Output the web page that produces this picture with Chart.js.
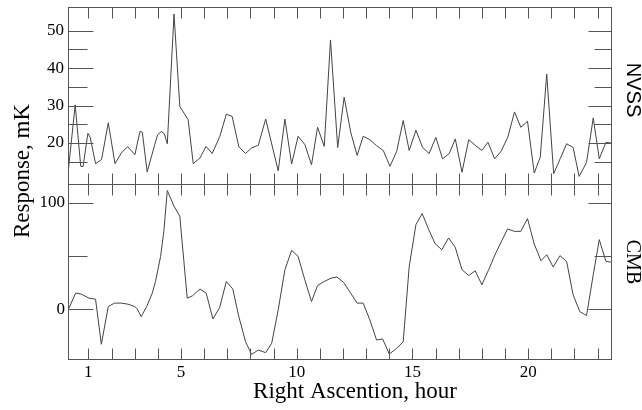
<!DOCTYPE html>
<html>
<head>
<meta charset="utf-8">
<script src="https://cdn.jsdelivr.net/npm/chart.js@4"></script>
<style>
  html, body { margin: 0; padding: 0; background: #fff; }
</style>
</head>
<body>
<canvas id="radio-chart" width="642" height="410"></canvas>
<script>
// Values

const nvssHours = [0.13, 0.43, 0.67, 0.77, 0.98, 1.08, 1.31, 1.57, 1.86, 2.15, 2.44, 2.70, 3.01, 3.23, 3.33, 3.54,
    3.87, 3.99, 4.16, 4.28, 4.41, 4.70, 4.95, 5.31, 5.53, 5.82, 6.08, 6.35, 6.68, 6.96, 7.21, 7.50, 7.79,
    8.05, 8.34, 8.66, 9.20, 9.49, 9.78, 10.06, 10.35, 10.64, 10.90, 11.19, 11.46, 11.77, 12.05, 12.34,
    12.61, 12.87, 13.16, 13.45, 13.74, 14.03, 14.32, 14.60, 14.86, 15.15, 15.44, 15.72, 16.01, 16.30,
    16.59, 16.85, 17.14, 17.43, 17.71, 18.00, 18.26, 18.55, 18.83, 19.12, 19.41, 19.68, 19.97, 20.26,
    20.52, 20.80, 21.10, 21.38, 21.66, 21.94, 22.20, 22.52, 22.81, 23.07, 23.36, 23.57];
const nvssValues = [12.4, 30.2, 13.8, 13.7, 22.6, 21.5, 14.5, 15.6, 25.4, 14.5, 17.5, 19.0, 16.9, 23.1, 22.9, 12.3,
    19.6, 22.2, 23.1, 22.5, 19.8, 54.4, 29.8, 26.2, 14.5, 16.0, 19.1, 17.2, 21.8, 27.7, 27.1, 19.0, 17.2,
    18.7, 19.4, 26.4, 12.6, 26.4, 14.4, 21.8, 19.6, 14.2, 24.2, 19.1, 47.5, 18.8, 32.2, 22.7,
    16.7, 21.8, 20.9, 19.3, 18.0, 13.8, 17.8, 26.0, 18.0, 23.4, 18.8, 17.2, 21.5, 15.8,
    17.2, 21.1, 12.2, 20.9, 19.4, 18.0, 20.2, 15.8, 17.8, 21.6, 28.3, 24.2, 25.8, 12.0,
    16.2, 38.4, 11.8, 15.8, 19.8, 18.8, 11.1, 14.8, 26.7, 15.8, 20.2, 20.0];

const cmbHours = [0.16, 0.45, 0.69, 1.02, 1.31, 1.56, 1.86, 2.13, 2.42, 2.71, 3.00, 3.11, 3.28, 3.52, 3.76, 3.90,
    4.12, 4.26, 4.41, 4.70, 4.95, 5.27, 5.49, 5.82, 6.09, 6.38, 6.67, 6.96, 7.24, 7.50, 7.79, 8.05, 8.34,
    8.66, 8.92, 9.20, 9.49, 9.78, 10.06, 10.35, 10.64, 10.90, 11.19, 11.48, 11.74, 12.03, 12.33, 12.61,
    12.87, 13.16, 13.45, 13.71, 14.00, 14.32, 14.60, 14.86, 15.15, 15.42, 15.70, 15.98, 16.27, 16.56,
    16.85, 17.14, 17.43, 17.71, 18.00, 18.29, 18.58, 18.86, 19.11, 19.40, 19.68, 19.97, 20.26, 20.55,
    20.80, 21.08, 21.37, 21.66, 21.94, 22.23, 22.52, 22.81, 23.07, 23.36, 23.57];
const cmbValues = [0.9, 15.1, 14.2, 10.4, 9.4, -33, 2.5, 5.7, 5.7, 4.7, 2.5, 0.3, -7, 2.5, 15.1, 26,
    49.6, 73.2, 111.6, 96.8, 87.4, 10.4, 12.5, 18.9, 15.1, -9.2, 1.5, 26, 18.9, -7, -30.6, -42.5, -38.4,
    -40.9, -32, -0.7, 37.1, 55.3, 49.6, 27.6, 7.2, 22.3, 26, 29.2, 30.2, 25.1, 15.1, 5.7,
    5.7, -10.1, -29, -28, -42.2, -36.8, -30.6, 40.2, 79.5, 89.9, 75, 61.6, 55.9, 67,
    58.1, 37.1, 31.7, 36.1, 22.9, 37.1, 51.9, 64.4, 75.5, 73.2, 73.2, 85.2, 61.3, 45.6,
    51.2, 39.6, 50.3, 44.9, 13.5, -2.3, -6, 32.4, 65.4, 44.9, 44.3];

const hourTicks = [1, 5, 10, 15, 20];
const nvssTicks = [20, 30, 40, 50];
const nvssMinor = [15, 25, 35, 45];
const cmbTicks = [0, 100];
const cmbMinor = [50];

const serif = '"Liberation Serif", "Times New Roman", serif';
const tickFont = { family: serif, size: 17 };

// Frame, inward ticks and titles

const framePlugin = {
    id: 'frame',
    afterDraw(chart) {
        const ctx = chart.ctx;
        const x = chart.scales.x;
        const yN = chart.scales.yN;
        const yC = chart.scales.yC;
        const left = Math.round(x.left) + 0.5;
        const right = Math.round(x.right) - 0.5;
        const top = Math.round(yN.top) + 0.5;
        const middle = Math.round(yN.bottom) + 0.5;
        const bottom = Math.round(yC.bottom) - 0.5;

        ctx.save();
        ctx.strokeStyle = '#555';
        ctx.lineWidth = 1;
        ctx.strokeRect(left, top, right - left, bottom - top);

        ctx.beginPath();
        ctx.moveTo(left, middle);
        ctx.lineTo(right, middle);
        for (let h = 1; h <= 23; h++) {
            const px = Math.round(x.getPixelForValue(h)) + 0.5;
            [[top, 11], [middle, -11], [middle, 11], [bottom, -11]].forEach(([y0, len]) => {
                ctx.moveTo(px, y0);
                ctx.lineTo(px, y0 + len);
            });
        }
        const panels = [
            { scale: yN, major: nvssTicks, minor: nvssMinor },
            { scale: yC, major: cmbTicks, minor: cmbMinor }
        ];
        panels.forEach(p => {
            p.major.forEach(v => {
                const py = Math.round(p.scale.getPixelForValue(v)) + 0.5;
                ctx.moveTo(left, py);
                ctx.lineTo(left + 25, py);
                ctx.moveTo(right, py);
                ctx.lineTo(right - 23, py);
            });
            p.minor.forEach(v => {
                const py = Math.round(p.scale.getPixelForValue(v)) + 0.5;
                ctx.moveTo(left, py);
                ctx.lineTo(left + 19, py);
                ctx.moveTo(right, py);
                ctx.lineTo(right - 17, py);
            });
        });
        ctx.stroke();

        ctx.fillStyle = '#000';
        ctx.textAlign = 'center';
        ctx.textBaseline = 'alphabetic';

        ctx.font = '23px ' + serif;
        ctx.fillText('Right Ascention, hour', 355, 398);

        ctx.save();
        ctx.translate(29, 171);
        ctx.rotate(-Math.PI / 2);
        ctx.fillText('Response, mK', 0, 0);
        ctx.restore();

        ctx.save();
        ctx.translate(627, 90);
        ctx.rotate(Math.PI / 2);
        ctx.font = '20px "Liberation Sans", Arial, sans-serif';
        ctx.fillText('NVSS', 0, 0);
        ctx.restore();

        ctx.save();
        ctx.translate(627, 262);
        ctx.rotate(Math.PI / 2);
        ctx.font = '20px ' + serif;
        ctx.fillText('CMB', 0, 0);
        ctx.restore();

        ctx.restore();
    }
};

// Chart

const radioCanvas = document.getElementById('radio-chart');

const radioData = {
    datasets: [{
        label: 'NVSS',
        data: nvssHours.map((h, i) => ({ x: h, y: nvssValues[i] })),
        yAxisID: 'yN',
        borderColor: '#444',
        borderWidth: 1,
        pointRadius: 0,
        tension: 0
    }, {
        label: 'CMB',
        data: cmbHours.map((h, i) => ({ x: h, y: cmbValues[i] })),
        yAxisID: 'yC',
        borderColor: '#444',
        borderWidth: 1,
        pointRadius: 0,
        tension: 0
    }]
};

const hiddenGrid = { display: false, drawTicks: false };

// fixed axis sizes, no extra room for the end labels
const fixWidth = s => {
    s.width = 68;
    s.paddingTop = 0;
    s.paddingBottom = 0;
};

const radioOptions = {
    responsive: false,
    animation: false,
    layout: {
        autoPadding: false,
        padding: { top: 7, right: 30, left: 0, bottom: 0 }
    },
    scales: {
        x: {
            type: 'linear',
            min: 0.12,
            max: 23.62,
            afterBuildTicks: s => { s.ticks = hourTicks.map(v => ({ value: v })); },
            afterFit: s => {
                s.height = 50;
                s.paddingLeft = 0;
                s.paddingRight = 0;
            },
            grid: hiddenGrid,
            border: { display: false },
            ticks: { font: tickFont, color: '#000', padding: 2, maxRotation: 0, autoSkip: false }
        },
        yC: {
            type: 'linear',
            position: 'left',
            stack: 'left',
            stackWeight: 1,
            min: -47.8,
            max: 118.2,
            afterBuildTicks: s => { s.ticks = cmbTicks.map(v => ({ value: v })); },
            afterFit: fixWidth,
            grid: hiddenGrid,
            border: { display: false },
            ticks: { font: tickFont, color: '#000', padding: 3 }
        },
        yN: {
            type: 'linear',
            position: 'left',
            stack: 'left',
            stackWeight: 1,
            min: 9.2,
            max: 56.3,
            afterBuildTicks: s => { s.ticks = nvssTicks.map(v => ({ value: v })); },
            afterFit: fixWidth,
            grid: hiddenGrid,
            border: { display: false },
            ticks: { font: tickFont, color: '#000', padding: 4 }
        }
    },
    plugins: {
        legend: { display: false },
        tooltip: { enabled: false }
    }
};

let radioChart = new Chart(radioCanvas, {
    type: 'line',
    data: radioData,
    options: radioOptions,
    plugins: [framePlugin]
});
</script>
</body>
</html>
